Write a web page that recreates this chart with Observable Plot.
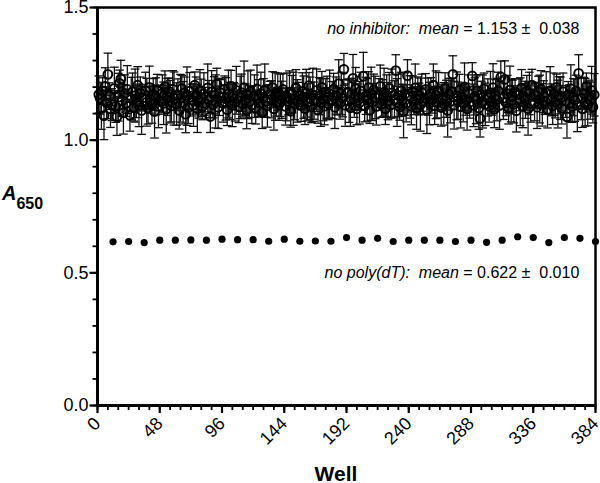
<!DOCTYPE html>
<html><head><meta charset="utf-8">
<script src="https://cdn.jsdelivr.net/npm/d3@7"></script>
<script src="https://cdn.jsdelivr.net/npm/@observablehq/plot@0.6"></script>
<style>body{margin:0;background:#fff;} svg text{white-space:pre;}</style>
</head><body><div id="chart"></div>
<script>
// No-inhibitor wells: mean A650 (wells 1..384 except every 12th, row by row of 11)
const inhibitorMeans = [
1.172,1.158,1.121,1.185,1.092,1.203,1.141,1.248,1.166,1.118,1.134,
1.195,1.127,1.088,1.162,1.214,1.231,1.149,1.103,1.176,1.139,1.191,
1.094,1.157,1.183,1.122,1.168,1.145,1.207,1.131,1.178,1.112,1.160,
1.186,1.143,1.121,1.199,1.152,1.134,1.172,1.108,1.165,1.188,1.127,
1.148,1.176,1.139,1.201,1.117,1.163,1.184,1.145,1.129,1.192,1.157,
1.136,1.171,1.112,1.158,1.194,1.141,1.178,1.098,1.166,1.123,1.185,
1.151,1.132,1.207,1.168,1.119,1.143,1.186,1.160,1.127,1.174,1.139,
1.197,1.155,1.089,1.182,1.134,1.169,1.146,1.211,1.124,1.163,1.178,
1.138,1.192,1.156,1.115,1.174,1.148,1.203,1.131,1.167,1.142,1.188,
1.126,1.161,1.179,1.137,1.198,1.152,1.113,1.171,1.145,1.184,1.133,
1.166,1.121,1.193,1.158,1.139,1.176,1.104,1.162,1.187,1.146,1.129,
1.172,1.154,1.198,1.118,1.165,1.141,1.183,1.135,1.169,1.152,1.191,
1.127,1.163,1.145,1.181,1.109,1.174,1.156,1.137,1.196,1.148,1.168,
1.131,1.184,1.162,1.119,1.177,1.143,1.205,1.158,1.126,1.171,1.149,
1.188,1.114,1.166,1.142,1.199,1.153,1.128,1.182,1.161,1.137,1.174,
1.151,1.192,1.124,1.168,1.145,1.213,1.139,1.176,1.158,1.267,1.132,
1.181,1.147,1.122,1.173,1.233,1.156,1.194,1.118,1.162,1.141,1.186,
1.241,1.129,1.167,1.152,1.198,1.113,1.175,1.144,1.189,1.161,1.127,
1.172,1.203,1.136,1.158,1.181,1.119,1.166,1.147,1.195,1.133,1.178,
1.154,1.262,1.142,1.169,1.125,1.186,1.151,1.109,1.174,1.139,1.243,
1.163,1.128,1.182,1.146,1.197,1.121,1.168,1.155,1.134,1.179,1.147,
1.191,1.115,1.164,1.138,1.176,1.152,1.207,1.129,1.171,1.144,1.185,
1.123,1.161,1.137,1.194,1.156,1.112,1.173,1.145,1.183,1.248,1.132,
1.167,1.149,1.188,1.126,1.162,1.139,1.201,1.154,1.118,1.176,1.143,
1.242,1.131,1.165,1.152,1.187,1.121,1.082,1.172,1.146,1.193,1.135,
1.161,1.128,1.179,1.144,1.198,1.117,1.168,1.153,1.186,1.131,1.238,
1.158,1.229,1.142,1.174,1.121,1.189,1.149,1.166,1.135,1.182,1.111,
1.171,1.145,1.196,1.127,1.163,1.152,1.184,1.119,1.176,1.138,1.207,
1.143,1.168,1.124,1.181,1.155,1.192,1.133,1.164,1.147,1.178,1.116,
1.187,1.152,1.129,1.173,1.144,1.199,1.136,1.169,1.158,1.121,1.183,
1.146,1.088,1.171,1.139,1.194,1.127,1.162,1.151,1.185,1.132,1.252,
1.157,1.118,1.176,1.143,1.203,1.134,1.166,1.149,1.188,1.125,1.171
];
// standard deviation of each no-inhibitor well
const inhibitorSD = [
.07,.06,.08,.05,.09,.07,.06,.08,.05,.07,.06,
.08,.06,.07,.09,.05,.07,.06,.08,.07,.05,.09,
.06,.08,.07,.05,.10,.06,.07,.08,.06,.09,.05,
.07,.09,.06,.08,.05,.07,.06,.10,.07,.06,.08,
.05,.07,.08,.06,.09,.07,.05,.08,.06,.07,.10,
.08,.06,.07,.09,.05,.08,.06,.07,.11,.06,.07,
.06,.08,.05,.07,.09,.06,.08,.07,.05,.08,.06,
.09,.07,.06,.08,.05,.07,.10,.06,.08,.07,.05,
.07,.05,.08,.06,.09,.07,.06,.08,.05,.07,.09,
.06,.08,.07,.05,.10,.06,.07,.09,.06,.08,.07,
.08,.06,.09,.07,.05,.08,.06,.07,.10,.06,.08,
.05,.07,.06,.08,.09,.05,.07,.06,.08,.07,.06,
.07,.09,.05,.08,.06,.07,.10,.06,.07,.08,.05,
.06,.07,.08,.06,.09,.07,.05,.08,.06,.10,.07,
.08,.05,.07,.09,.06,.08,.07,.05,.08,.06,.09,
.07,.06,.08,.07,.05,.09,.06,.08,.07,.06,.08,
.05,.08,.07,.06,.09,.07,.08,.06,.05,.08,.07,
.09,.06,.07,.08,.06,.05,.10,.07,.06,.08,.07,
.06,.08,.05,.07,.09,.06,.08,.07,.06,.05,.09,
.07,.06,.09,.08,.05,.07,.06,.10,.08,.07,.06,
.08,.07,.06,.05,.09,.08,.07,.06,.10,.07,.05,
.06,.09,.07,.08,.06,.05,.08,.07,.09,.06,.07,
.07,.05,.08,.06,.07,.10,.06,.08,.05,.07,.09,
.09,.07,.06,.08,.05,.07,.09,.06,.08,.07,.06,
.05,.08,.07,.09,.06,.08,.07,.05,.10,.06,.08,
.07,.06,.08,.05,.09,.07,.06,.08,.07,.09,.06,
.08,.07,.05,.07,.06,.09,.08,.06,.07,.05,.08,
.06,.09,.07,.08,.05,.07,.06,.10,.08,.07,.06,
.07,.05,.08,.06,.09,.07,.08,.06,.05,.08,.07,
.09,.06,.07,.08,.06,.05,.09,.07,.08,.06,.07,
.06,.08,.05,.07,.09,.06,.07,.08,.06,.10,.07,
.08,.07,.06,.09,.05,.08,.06,.07,.09,.06,.08
];
// No poly(dT) control wells
const controlWells = [12,24,36,48,60,72,84,96,108,120,132,144,156,168,180,192,204,216,228,240,252,264,276,288,300,312,324,336,348,360,372,384];
const controlValues = [0.617,0.618,0.614,0.623,0.623,0.624,0.623,0.627,0.625,0.625,0.619,0.627,0.619,0.620,0.619,0.633,0.623,0.630,0.618,0.623,0.623,0.623,0.618,0.623,0.615,0.623,0.636,0.633,0.614,0.633,0.630,0.618];
const xTicks = [0,48,96,144,192,240,288,336,384];
const xMinorTicks = [0,8,16,24,32,40,48,56,64,72,80,88,96,104,112,120,128,136,144,152,160,168,176,184,192,200,208,216,224,232,240,248,256,264,272,280,288,296,304,312,320,328,336,344,352,360,368,376,384];
const yTicks = [0.0,0.5,1.0,1.5];
const yMinorTicks = [0,0.1,0.2,0.3,0.4,0.5,0.6,0.7,0.8,0.9,1.0,1.1,1.2,1.3,1.4,1.5];
const annotations = [
  {y: 1.421, parts: [["no inhibitor:", true], ["  ", false], ["mean", true], [" = 1.153 \u00b1  0.038", false]]},
  {y: 0.498, parts: [["no poly(dT):", true], ["  ", false], ["mean", true], [" = 0.622 \u00b1  0.010", false]]}
];

const inhibitorWells = d3.range(1, 385).filter(w => w % 12 !== 0);
const inhibitor = inhibitorWells.map((w, i) => ({well: w, mean: inhibitorMeans[i], sd: inhibitorSD[i]}));
const control = controlWells.map((w, i) => ({well: w, value: controlValues[i]}));

const rad = size => Math.sqrt(size / Math.PI);
const cap = {draw(ctx, size) { const w = rad(size); ctx.moveTo(-w, 0); ctx.lineTo(w, 0); }};
const tickLeft = {draw(ctx, size) { const w = rad(size); ctx.moveTo(0, 0); ctx.lineTo(-w, 0); }};
const tickDown = {draw(ctx, size) { const w = rad(size); ctx.moveTo(0, 0); ctx.lineTo(0, w); }};
const FONT = "Liberation Sans, Arial, Helvetica, sans-serif";
const joined = d => d.parts.map(p => p[0]).join("");

const plot = Plot.plot({
  width: 600, height: 483,
  marginLeft: 97, marginRight: 5, marginTop: 7, marginBottom: 78,
  style: {fontFamily: FONT, background: "white", color: "black"},
  x: {domain: [0, 384]},
  y: {domain: [0, 1.5]},
  marks: [
    Plot.axisY({ticks: yTicks, tickSize: 0, tickPadding: 9, tickFormat: d3.format(".1f"), fontSize: 18, label: null}),
    Plot.axisX({ticks: xTicks, tickSize: 0, tickPadding: 15, tickRotate: -45, fontSize: 18, label: null}),
    Plot.dot(yMinorTicks, {x: () => 0, y: d => d, symbol: tickLeft, r: 5, stroke: "black", strokeWidth: 1.8}),
    Plot.dot(yTicks, {x: () => 0, y: d => d, symbol: tickLeft, r: 8, stroke: "black", strokeWidth: 2.2}),
    Plot.dot(xMinorTicks, {x: d => d, y: () => 0, symbol: tickDown, r: 4.5, stroke: "black", strokeWidth: 1.8}),
    Plot.dot(xTicks, {x: d => d, y: () => 0, symbol: tickDown, r: 7.5, stroke: "black", strokeWidth: 2.2}),
    Plot.ruleX(inhibitor, {x: "well", y1: d => d.mean - d.sd, y2: d => d.mean + d.sd, stroke: "#111", strokeWidth: 1.3}),
    Plot.dot(inhibitor, {x: "well", y: d => d.mean + d.sd, symbol: cap, r: 4.3, stroke: "#111", strokeWidth: 1.3}),
    Plot.dot(inhibitor, {x: "well", y: d => d.mean - d.sd, symbol: cap, r: 4.3, stroke: "#111", strokeWidth: 1.3}),
    Plot.dot(inhibitor, {x: "well", y: "mean", r: 4.4, stroke: "black", strokeWidth: 2, fill: "none"}),
    Plot.dot(control, {x: "well", y: "value", r: 3.6, fill: "black"}),
    Plot.frame({stroke: "black", strokeWidth: 2.5}),
    Plot.ruleY([0], {stroke: "black", strokeWidth: 3}),
    Plot.ruleX([0], {stroke: "black", strokeWidth: 3}),
    Plot.text(annotations, {x: () => 371.5, y: "y", text: joined, textAnchor: "end", fontSize: 16, fill: "black"})
  ]
});

const svg = d3.select(plot);
annotations.forEach(a => {
  svg.selectAll("text").filter(function() { return this.textContent === joined(a); }).each(function() {
    const t = d3.select(this);
    t.text(null);
    a.parts.forEach(([s, it]) => {
      t.append("tspan").style("font-style", it ? "italic" : "normal").text(s);
    });
  });
});
// axis titles
svg.append("text").attr("x", 336).attr("y", 481).attr("text-anchor", "middle")
  .attr("font-family", FONT).attr("font-size", 21).attr("font-weight", "bold").text("Well");
const yl = svg.append("text").attr("x", 2).attr("y", 200).attr("text-anchor", "start")
  .attr("font-family", FONT).attr("font-weight", "bold");
yl.append("tspan").attr("font-size", 20).style("font-style", "italic").text("A");
yl.append("tspan").attr("font-size", 16).attr("dy", 9).text("650");

document.getElementById("chart").appendChild(plot);
</script>
</body></html>
